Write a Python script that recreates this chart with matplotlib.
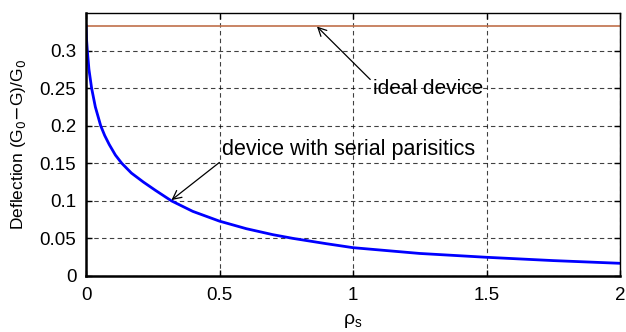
import numpy as np
import matplotlib
matplotlib.use("Agg")
import matplotlib.pyplot as plt

plt.rcParams["font.family"] = ["Liberation Sans", "DejaVu Sans"]

# ===== data =====
rho = [0, 0.002, 0.005, 0.011, 0.021, 0.035, 0.055, 0.07, 0.087, 0.11, 0.134, 0.17,
       0.215, 0.26, 0.32, 0.4, 0.5, 0.6, 0.7, 0.776, 0.9, 1.0, 1.25, 1.5, 1.75, 2.0]
deflection = [0.333, 0.315, 0.300, 0.275, 0.250, 0.225, 0.200, 0.187, 0.175, 0.161,
              0.150, 0.137, 0.125, 0.114, 0.100, 0.086, 0.073, 0.063, 0.055, 0.050,
              0.043, 0.0377, 0.030, 0.0249, 0.0205, 0.0169]
ideal_x = [0, 2]
ideal_y = [1 / 3, 1 / 3]

xticks = [0, 0.5, 1, 1.5, 2]
xtick_labels = ["0", "0.5", "1", "1.5", "2"]
yticks = [0, 0.05, 0.1, 0.15, 0.2, 0.25, 0.3]
ytick_labels = ["0", "0.05", "0.1", "0.15", "0.2", "0.25", "0.3"]

# ===== plot =====
fig = plt.figure(figsize=(6.26, 3.32), dpi=100)
ax = fig.add_axes([86 / 626, 1 - 276 / 332, 534 / 626, 263 / 332])

ax.plot(ideal_x, ideal_y, color="#c0704a", linewidth=1.2)
ax.plot(rho, deflection, color="blue", linewidth=2)

ax.set_xlim(0, 2)
ax.set_ylim(0, 0.35)
ax.set_xticks(xticks)
ax.set_xticklabels(xtick_labels)
ax.set_yticks(yticks)
ax.set_yticklabels(ytick_labels)
ax.tick_params(direction="in", labelsize=13.5, length=4, width=1, top=True, right=True)
ax.tick_params(axis="y", pad=7)
ax.tick_params(axis="x", pad=8)

ax.grid(True, linestyle=(0, (4, 3)), color="black", linewidth=0.8, alpha=0.75)
for s in ["left", "bottom"]:
    ax.spines[s].set_linewidth(1.8)
for s in ["top", "right"]:
    ax.spines[s].set_linewidth(1.0)

ax.set_xlabel(r"$\mathregular{\rho_s}$", fontsize=14, labelpad=6)
ax.set_ylabel(r"Deflection (G$_0$$-$G)/G$_0$", fontsize=12.5, labelpad=8)

ax.annotate("ideal device", xy=(0.865, 0.332), xytext=(1.075, 0.249),
            fontsize=15, va="center", ha="left",
            arrowprops=dict(arrowstyle="->", color="black", lw=0.9,
                            shrinkA=0, shrinkB=0, relpos=(0, 0.85)))
ax.annotate("device with serial parisitics", xy=(0.32, 0.101), xytext=(0.51, 0.168),
            fontsize=15.5, va="center", ha="left",
            arrowprops=dict(arrowstyle="->", color="black", lw=0.9,
                            shrinkA=0, shrinkB=0, relpos=(0, 0.0)))

plt.savefig("out.png", dpi=100)
